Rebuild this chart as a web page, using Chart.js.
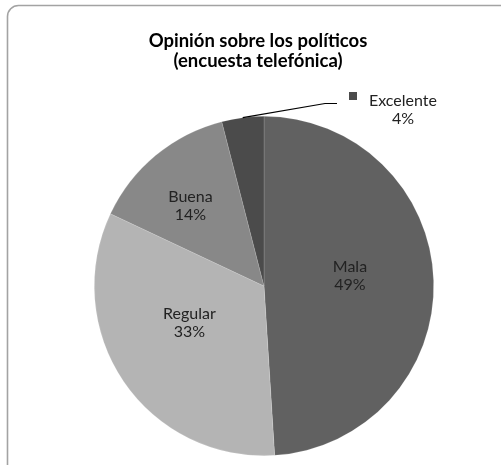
<!DOCTYPE html>
<html>
<head>
<meta charset="utf-8">
<script src="https://cdn.jsdelivr.net/npm/chart.js@4.4.1/dist/chart.umd.min.js"></script>
<style>
    html, body { margin: 0; padding: 0; background: #ffffff; }
    #wrap { position: relative; width: 501px; height: 465px; }
</style>
</head>
<body>
<div id="wrap"><canvas id="pieChart" width="501" height="465"></canvas></div>
<script>
// Data
const categories = ['Mala', 'Regular', 'Buena', 'Excelente'];
const shares = [49, 33, 14, 4];
const shareLabels = ['49%', '33%', '14%', '4%'];
const sliceColors = ['#616161', '#b4b4b4', '#888888', '#4b4b4b'];
const titleLines = ['Opinión sobre los políticos', '(encuesta telefónica)'];

const FONT = 'Lato, "Open Sans", sans-serif';
const TEXT_COLOR = '#222222';

// Where each inside label sits: fraction of radius, and angle nudge (deg)
const labelRadius = [0.51, 0.49, 0.64];
const labelNudge = [-5, 8, -3];

const decorations = {
    id: 'decorations',
    beforeDraw(chart) {
        const ctx = chart.ctx;
        ctx.save();
        ctx.fillStyle = '#ffffff';
        ctx.fillRect(0, 0, chart.width, chart.height);
        // rounded chart frame (runs off the bottom-right edge)
        ctx.strokeStyle = '#a3a3a3';
        ctx.lineWidth = 1.6;
        ctx.beginPath();
        ctx.roundRect(7.5, 5.5, 510, 480, 11);
        ctx.stroke();
        ctx.restore();
    },
    afterDatasetsDraw(chart) {
        const ctx = chart.ctx;
        const arcs = chart.getDatasetMeta(0).data;
        ctx.save();

        // title
        ctx.fillStyle = '#000000';
        ctx.font = 'bold 18.5px ' + FONT;
        ctx.textAlign = 'center';
        ctx.textBaseline = 'alphabetic';
        ctx.fillText(titleLines[0], 258, 47);
        ctx.fillText(titleLines[1], 258, 67);

        ctx.font = '16px ' + FONT;
        ctx.fillStyle = TEXT_COLOR;
        ctx.textBaseline = 'middle';

        // inside labels
        arcs.forEach((arc, i) => {
            if (i >= labelRadius.length) return;
            const p = arc.getProps(['x', 'y', 'startAngle', 'endAngle', 'outerRadius'], true);
            const mid = (p.startAngle + p.endAngle) / 2 + labelNudge[i] * Math.PI / 180;
            const r = p.outerRadius * labelRadius[i];
            const lx = p.x + Math.cos(mid) * r;
            const ly = p.y + Math.sin(mid) * r;
            ctx.fillText(categories[i], lx, ly - 9);
            ctx.fillText(shareLabels[i], lx, ly + 9);
        });

        // outside label with leader line for the small slice
        const last = arcs.length - 1;
        const p = arcs[last].getProps(['x', 'y', 'startAngle', 'endAngle', 'outerRadius'], true);
        const mid = (p.startAngle + p.endAngle) / 2;
        const sx = p.x + Math.cos(mid) * p.outerRadius;
        const sy = p.y + Math.sin(mid) * p.outerRadius;
        ctx.strokeStyle = '#000000';
        ctx.lineWidth = 1.2;
        ctx.beginPath();
        ctx.moveTo(sx, sy);
        ctx.lineTo(325, 103.5);
        ctx.lineTo(337, 103.5);
        ctx.stroke();

        ctx.fillStyle = sliceColors[last];
        ctx.fillRect(349, 92, 8, 8);
        ctx.fillStyle = TEXT_COLOR;
        ctx.textAlign = 'left';
        ctx.fillText(categories[last], 369, 101);
        ctx.textAlign = 'center';
        ctx.fillText(shareLabels[last], 403, 119);

        ctx.restore();
    }
};

new Chart(document.getElementById('pieChart'), {
    type: 'pie',
    data: {
        labels: categories,
        datasets: [{
            data: shares,
            backgroundColor: sliceColors,
            borderColor: 'rgba(255,255,255,0.25)',
            borderWidth: 0.6,
            hoverOffset: 0
        }]
    },
    options: {
        responsive: false,
        animation: false,
        layout: {
            padding: { left: 94, right: 67, top: 116, bottom: 9 }
        },
        plugins: {
            legend: { display: false },
            title: { display: false },
            tooltip: { enabled: false }
        }
    },
    plugins: [decorations]
});
</script>
</body>
</html>
